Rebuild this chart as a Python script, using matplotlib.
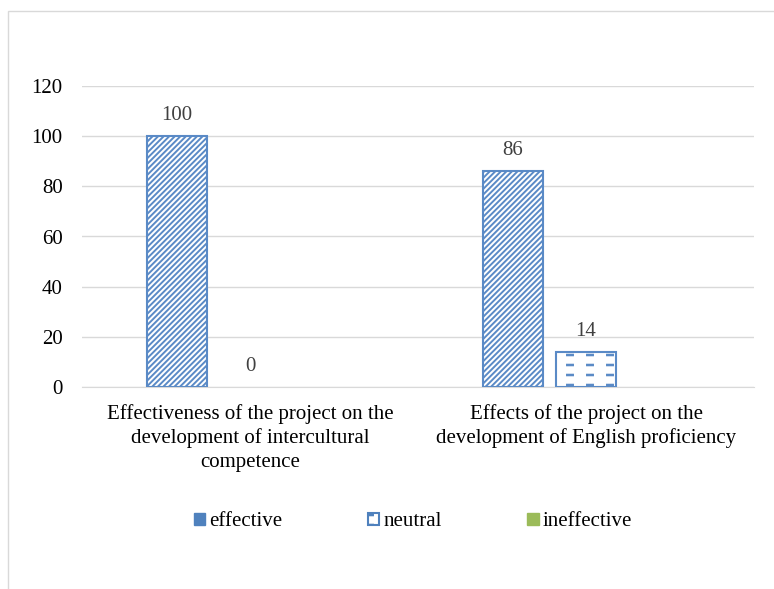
import matplotlib
matplotlib.use("Agg")
import matplotlib.pyplot as plt
import matplotlib.hatch as mhatch
from matplotlib.path import Path
import numpy as np
from matplotlib.patches import Rectangle, Patch

plt.rcParams['font.family'] = ['Liberation Serif', 'DejaVu Serif']
plt.rcParams['hatch.linewidth'] = 1.4


class DashHatch(mhatch.HatchPatternBase):
    """Rows of short horizontal dashes (used for the 'o' hatch character)."""

    def __init__(self, hatch, density):
        n = hatch.count('o')
        self.nr = 10 * n
        self.nc = 5 * n
        self.num_vertices = self.nr * self.nc * 5

    def set_vertices_and_codes(self, vertices, codes):
        dw, dh = 0.03, 0.003
        shape = np.array([[-dw, -dh], [dw, -dh], [dw, dh], [-dw, dh], [-dw, -dh]])
        scodes = np.array([Path.MOVETO, Path.LINETO, Path.LINETO, Path.LINETO,
                           Path.CLOSEPOLY], dtype=Path.code_type)
        vparts, cparts = [], []
        for i in range(self.nr):
            for j in range(self.nc):
                vparts.append(shape + [(j + 0.5) / self.nc, (i + 0.5) / self.nr])
                cparts.append(scodes)
        np.concatenate(vparts, out=vertices)
        np.concatenate(cparts, out=codes)


mhatch._hatch_types = [DashHatch if t is mhatch.SmallCircles else t for t in mhatch._hatch_types]

categories = ["Effectiveness of the project on the\ndevelopment of intercultural\ncompetence",
              "Effects of the project on the\ndevelopment of English proficiency"]
effective = [100, 86]
neutral = [0, 14]
ineffective = [np.nan, np.nan]
series_names = ["effective", "neutral", "ineffective"]
yticks = [0, 20, 40, 60, 80, 100, 120]

blue = "#4F81BD"
blue_edge = "#5A8AC6"
green = "#9BBB59"
fs = 15

fig = plt.figure(figsize=(7.74, 5.89), dpi=100)
fig.patches.append(Rectangle((8/774, -0.1), 1.2, 1 - 11/589 + 0.1, transform=fig.transFigure,
                             fill=False, edgecolor="#D9D9D9", linewidth=1.0))
ax = fig.add_axes([82/774, 1 - 387/589, (754-82)/774, (387-86)/589])

x = np.arange(len(categories))
w = 0.179
off = 0.217

b1 = ax.bar(x - off, effective, w, facecolor="white", edgecolor=blue_edge, hatch="//////",
            linewidth=[1.5 if v > 0 else 0 for v in effective], zorder=3)
b2 = ax.bar(x, neutral, w, facecolor="white", edgecolor=blue_edge, hatch="o",
            linewidth=[1.5 if v > 0 else 0 for v in neutral], zorder=3)
b3 = ax.bar(x + off, [0 if np.isnan(v) else v for v in ineffective], w, color=green,
            linewidth=0, zorder=3)

for bars, vals in ((b1, effective), (b2, neutral)):
    for rect, v in zip(bars, vals):
        ax.annotate(f"{v:g}", (rect.get_x() + rect.get_width()/2, v), xytext=(0, 8),
                    textcoords="offset points", ha="center", va="bottom",
                    fontsize=fs, color="#404040")

ax.set_xlim(-0.5, 1.5)
ax.set_ylim(0, 120)
ax.set_yticks(yticks)
ax.set_yticklabels([str(t) for t in yticks], fontsize=fs)
ax.set_xticks(x)
ax.set_xticklabels(categories, fontsize=fs, linespacing=1.33)
ax.tick_params(axis='both', length=0, colors="black")
ax.tick_params(axis='y', pad=14)
ax.tick_params(axis='x', pad=12)
ax.grid(axis='y', color="#D9D9D9", linewidth=1.0, zorder=0)
for s in ("top", "right", "left"):
    ax.spines[s].set_visible(False)
ax.spines["bottom"].set_color("#D9D9D9")

handles = [Patch(facecolor=blue, edgecolor=blue),
           Patch(facecolor="white", edgecolor=blue, linewidth=1.5, hatch="o"),
           Patch(facecolor=green, edgecolor=green)]
fig.legend(handles, series_names, loc="center", bbox_to_anchor=(413/774, 1 - 522/589),
           ncol=3, frameon=False, fontsize=fs, handlelength=0.55, handleheight=0.55,
           handletextpad=0.2, columnspacing=4.1)

fig.savefig("out.png", dpi=100)
